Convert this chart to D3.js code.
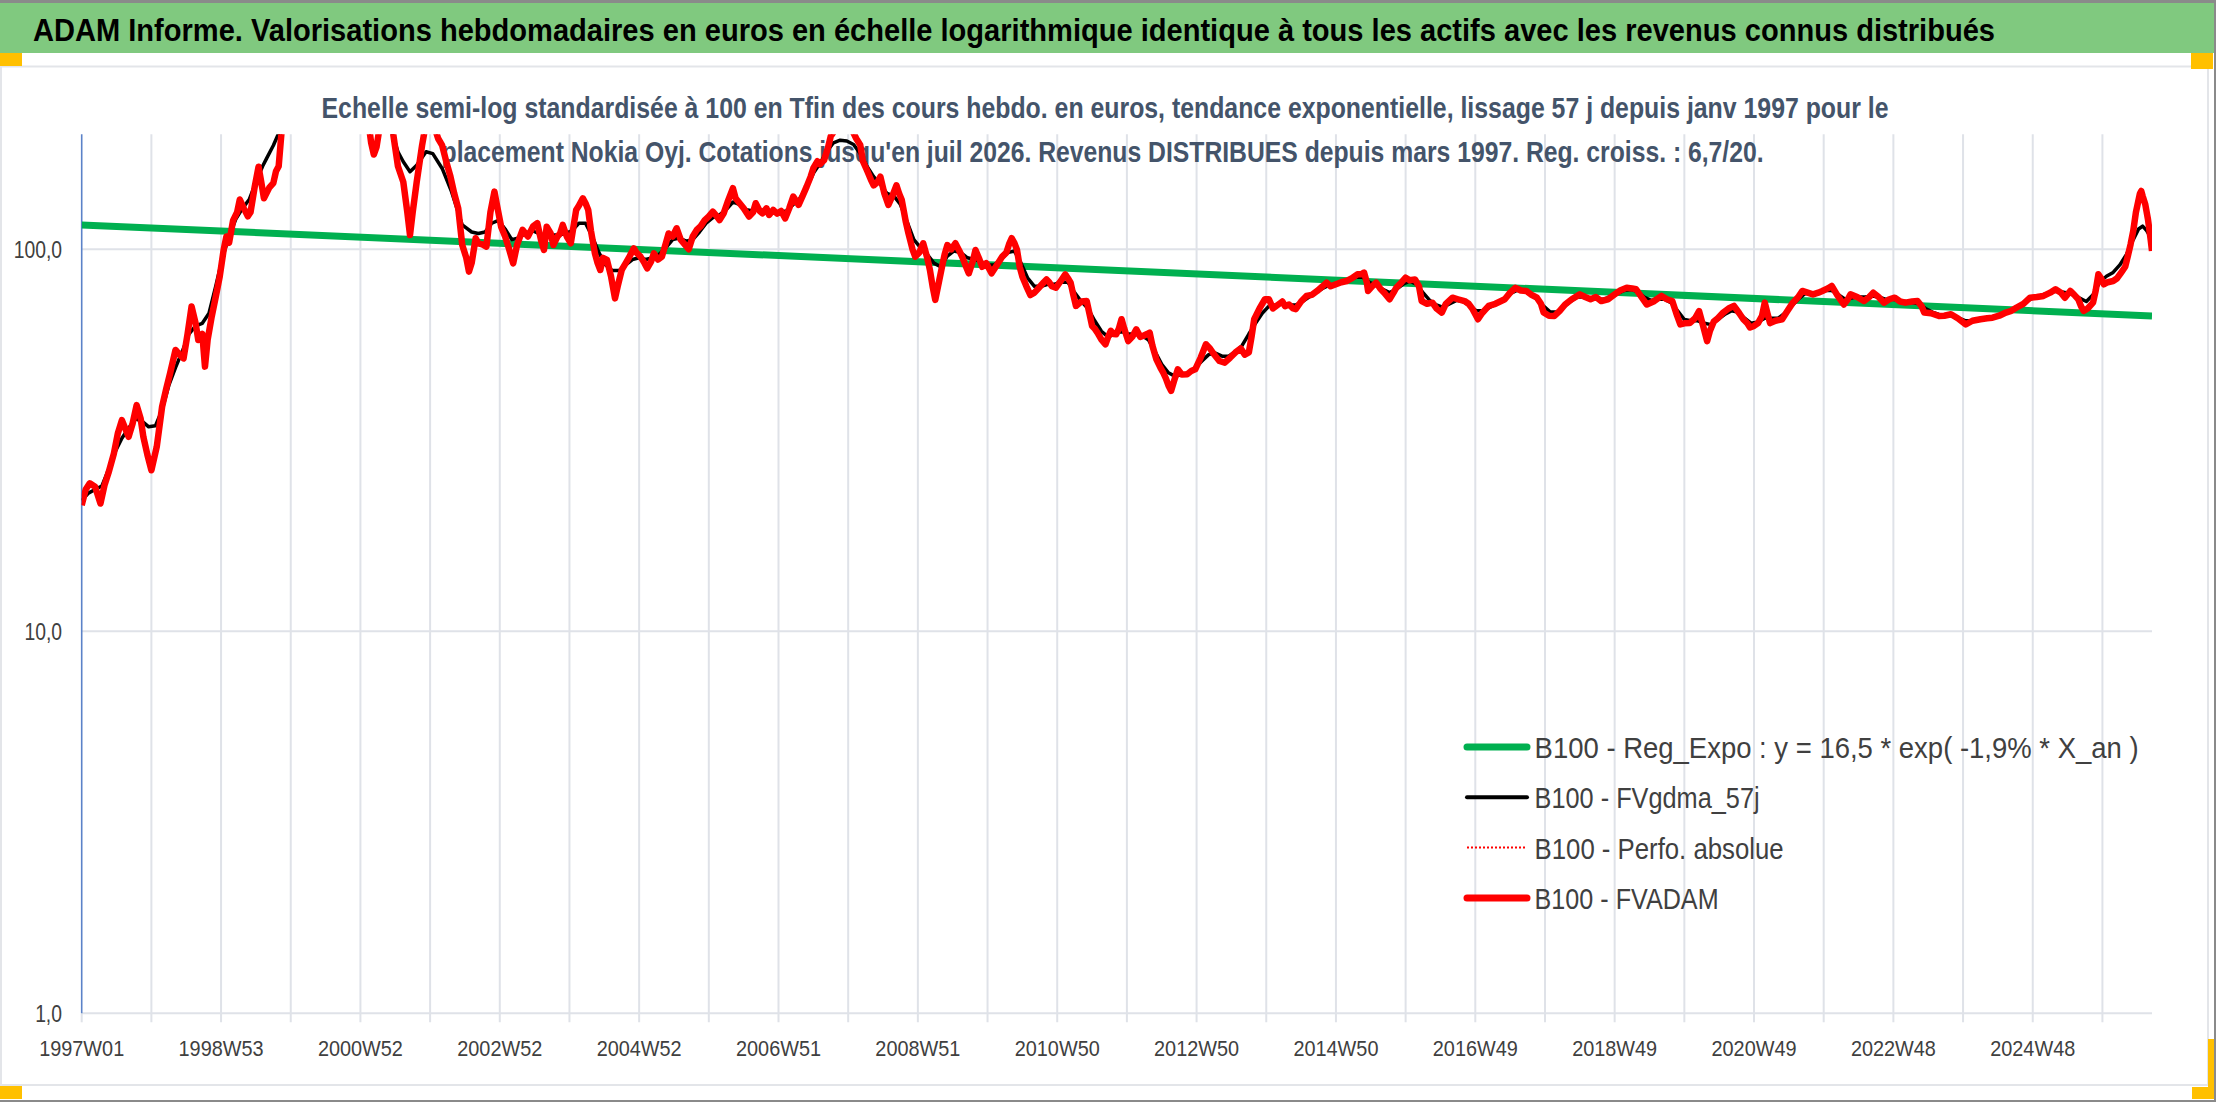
<!DOCTYPE html>
<html lang="fr">
<head>
<meta charset="utf-8">
<title>ADAM Informe - Nokia Oyj</title>
<script src="https://d3js.org/d3.v7.min.js"></script>
<style>
  html, body { margin: 0; padding: 0; background: #fff; }
  svg { display: block; font-family: "Liberation Sans", Arial, sans-serif; }
</style>
</head>
<body>
<script>
// ---- data (x = week index since 1997W01) ----
const tickLabels = ["1997W01","1998W53","2000W52","2002W52","2004W52","2006W51","2008W51",
  "2010W50","2012W50","2014W50","2016W49","2018W49","2020W49","2022W48","2024W48"];
const tickWeeks = [0,104,208,312,416,520,624,728,832,936,1040,1144,1248,1352,1456];
const gridWeeks = [0,52,104,156,208,260,312,364,416,468,520,572,624,676,728,780,832,884,
  936,988,1040,1092,1144,1196,1248,1300,1352,1404,1456,1508];
const yTicks = [1, 10, 100];
const lastWeek = 1545;

const legendLabels = [
  "B100 - Reg_Expo : y = 16,5 * exp( -1,9% *  X_an )",
  "B100 - FVgdma_57j",
  "B100 - Perfo. absolue",
  "B100 - FVADAM"
];

// exponential regression line (straight on the log axis)
const regExpo = [[0,115.8],[1545,66.9]];

// FVADAM (red, weekly valuation)
const fvadam = [
[0,21.4],[3,23.5],[6,24.4],[10,23.9],[14,21.6],[17,24.1],[20,26],[24,29.2],[27,33],[30,35.7],
[35,32.3],[38,35],[41,39.1],[44,36],[46,32.3],[49,29],[52,26.4],[56,30.4],[60,38.7],[63,43],
[66,47.4],[70,54.5],[73,53],[76,51.8],[79,60],[82,70.8],[85,64],[87,57.9],[90,60],[92,49.3],
[94,58],[97,66.6],[100,75],[103,84.8],[106,100],[108,108],[110,104],[113,119],[116,125],[118,135],
[121,128],[124,122],[126,125],[129,145],[132,164.5],[134,150],[136,136],[140,145],[143,149],[145,160],
[147,165],[149,200],[152,230],[156,260],[162,300],[170,340],[178,390],[186,430],[192,400],[198,360],
[204,310],[210,250],[214,215],[216,190],[218,177],[220,185],[222,205],[226,240],[230,225],[232.5,200],
[236,165],[240,150],[243,125],[245,109],[247,125],[250,150],[254,187],[256,205],[260,215],[264,205],
[266,195],[269,187],[272,170],[275,156],[278,140],[281,128],[284,102.6],[287,95],[289,87.4],[291,92],
[294,106.9],[296,103.7],[299,103],[302,101.6],[305,125],[308,141.6],[310,130],[313,114.6],[316,108],[319,100],
[322,91.9],[325,103],[329,112.4],[333,108],[337,115],[340,117],[343,105],[345,99.6],[347,114.6],[350,110],
[352,102.6],[355,108],[357,110],[359,115.8],[362,108],[365,103.7],[369,126.8],[371,130],[374,136],[376,132],
[378,126.8],[380,112],[383,97.6],[385,92],[387,88.3],[389,95],[392,93.8],[395,85],[398,74.4],[400,80],
[403,88.3],[406,92],[409,96],[412,100.6],[414,98],[417,95.7],[420,92],[422,89.2],[425,93],[427,97.6],
[430,94],[433,95.7],[436,104],[438,110],[441,108],[444,113.5],[447,106],[450,103],[453,100],[456,108],
[459,112.4],[462,115],[465,119.3],[468,122],[471,125.5],[474,122],[476,119.3],[479,124],[482,133],[486,144.5],
[488,136],[491,132],[494,128],[498,121.8],[501,125],[503,132],[506,126],[508,124.2],[511,128],[513,123],
[516,126.8],[519,124],[522,126],[525,120.5],[528,128],[531,137.4],[535,130.7],[538,138],[541,145.9],[544,155],
[546,163],[549,170],[551,167],[554,171],[557,185],[559,197.7],[562,205],[566,210],[570,205],[573,212],
[575,205],[578,195],[581,187.6],[583,170],[586,161],[589,152],[591,147],[594,150],[596,155],[599,140],
[602,130.7],[605,138],[608,147],[610,140],[612,134.6],[615,118],[617,110],[620,100],[622,95.7],[625,98],
[628,103.7],[631,95],[633,88.3],[635,80],[637,73.7],[640,83],[642,90],[644,97],[646,102.6],[649,100],
[652,103.7],[655,99],[657,95.7],[660,90],[662,86.5],[665,93],[667,99.6],[670,94],[672,90],[675,92],
[679,86.5],[683,91],[687,95.7],[690,98],[692,103],[694,106.9],[696,104],[698,99.6],[700,90],[702,84.8],
[705,80],[708,75.9],[711,77],[715,79.8],[718,82],[720,83.4],[722,82],[724,80],[727,79.3],[730,82],
[734,86],[736,84],[738,81.8],[740,76],[742,71.1],[746,73],[750,73.2],[752,68],[754,63],[756,62],
[758,60.5],[761,58],[764,56.4],[766,59],[768,61.2],[770,60],[772,59.9],[774,62],[776,65.6],[778,62],
[781,57.5],[784,59],[787,61.7],[790,59],[792,59.3],[795,60],[797,60.5],[799,56],[802,51.5],[805,49],
[807,47.6],[809,46],[811,44],[813,42.6],[815,45],[818,48.5],[821,47],[825,47.1],[828,48],[831,48.5],
[835,52],[839,56.4],[842,55],[845,53.1],[849,51],[853,50.5],[857,52],[861,53.7],[865,55],[868,53],
[871,53.7],[873,59],[875,65.6],[879,70],[883,74],[886,74],[889,70],[893,71.7],[896,73],[898,71],
[901,71.7],[904,70],[906,69.7],[910,73],[914,75.5],[918,76],[922,77.8],[926,80],[929,81.8],[932,80],
[936,81],[940,82],[944,82.6],[948,84],[952,86],[955,86],[957,86.9],[959,82],[960,77.8],[963,80],
[966,81.8],[969,79],[972,77],[976,74],[979,77],[981,79.3],[985,82],[988,84.3],[991,83],[995,83.4],
[998,80],[1000,73.2],[1004,72],[1008,72.5],[1011,70],[1015,68.3],[1018,72],[1023,74.7],[1027,74],[1032,73.2],
[1035,72],[1038,69.7],[1042,65.6],[1045,68],[1050,71.1],[1055,72],[1062,74],[1066,77],[1070,79.3],[1074,78],
[1078,77.8],[1082,76],[1086,74.7],[1089,72],[1091,68.3],[1095,67],[1099,66.9],[1103,69],[1107,71.7],[1112,74],
[1118,76.2],[1122,75],[1126,74],[1130,75],[1134,73.2],[1139,74],[1144,76.2],[1148,78],[1153,79.3],[1157,79],
[1160,78.6],[1164,75],[1168,71.7],[1173,73],[1179,75.5],[1183,74],[1187,73.2],[1190,68],[1193,63.6],[1196,64],
[1200,64.1],[1204,66],[1207,68.9],[1210,63],[1213,57.5],[1215,61],[1218,64.7],[1221,66],[1225,68.3],[1229,70],
[1233,71.1],[1237,68],[1240,65.6],[1243,64],[1245,62.4],[1248,63],[1251,64.1],[1254,67],[1256,72.5],[1258,68],
[1260,64.1],[1264,65],[1269,65.6],[1273,69],[1277,72.5],[1281,75],[1284,77.8],[1288,77],[1292,76.2],[1296,77],
[1299,77.8],[1303,79],[1306,80.2],[1310,76],[1315,71.7],[1318,74],[1320,76.2],[1325,75],[1330,73.2],[1334,75],
[1337,77],[1341,75],[1345,72.5],[1349,74],[1353,74.7],[1357,73],[1361,72.5],[1366,73],[1370,73.2],[1373,71],
[1375,68.3],[1380,68],[1386,66.9],[1390,67],[1395,67.6],[1400,66],[1406,63.6],[1411,65],[1417,65.6],[1422,66],
[1426,66.2],[1431,67],[1436,68.3],[1440,69],[1444,70.4],[1449,72],[1454,74.7],[1459,75],[1464,75.5],[1469,77],
[1473,78.6],[1477,77],[1480,74.7],[1484,77.8],[1487,76],[1490,74],[1492,71],[1494,69],[1497,70],[1501,72.5],
[1503,78],[1505,86],[1507,84],[1509,81],[1512,82],[1516,82.6],[1519,84],[1522,86.9],[1525,90],[1527,96.1],
[1529,103],[1531,111.7],[1533,125],[1534,129.8],[1536,140],[1537,142.1],[1538,138],[1540,131],[1542,119.8],[1544,106],
[1545,99]
];

// Perfo. absolue (dotted red) coincides with FVADAM on the picture
const perfoAbsolue = fvadam;

// FVgdma_57j (black, smoothed)
const fvgdma = [
[0,22],[5,23],[10,23.5],[15,24],[20,26.5],[25,29.5],[30,32],[35,34],[40,36],[45,35.5],
[50,34.3],[55,34.5],[60,38],[65,44],[70,49],[75,54],[80,60],[85,63],[90,64],[95,68],
[100,80],[105,95],[110,108],[115,120],[120,128],[125,135],[130,150],[135,165],[138,173],[143,187],
[148,205],[155,250],[165,300],[175,350],[185,390],[195,380],[205,330],[215,270],[225,230],[232,200],
[236,180],[240,169.5],[245,159.6],[250,166],[257,180],[262,178],[269,162.8],[276,141.5],[284,115.8],[291,111],
[296,110],[301,111],[306,117],[311,119],[316,113],[321,106],[326,107],[331,110],[336,112],[341,110],
[346,108],[351,109],[356,109],[361,110],[366,112],[371,117],[376,117],[381,108],[386,98],[391,91],
[396,88],[401,88],[406,91],[411,94],[416,95],[421,94],[426,95],[431,97],[436,101],[441,106],
[446,107],[451,105],[456,106],[461,111],[466,117],[471,121],[476,123],[481,127],[486,133],[491,131],
[496,127],[501,126],[506,127],[511,126],[516,125],[521,125],[526,126],[531,131],[536,136],[541,145],
[546,158],[551,168],[556,180],[561,190],[566,193],[571,192],[576,188],[581,178],[586,165],[591,155],
[596,148],[601,140],[606,138],[611,131],[616,118],[621,106],[626,101],[631,97],[636,92],[641,90],
[646,96],[651,99],[656,98],[661,95],[666,94],[671,93],[676,91],[681,91],[686,94],[691,98],
[696,99],[701,92],[706,84],[711,80],[716,80],[721,81],[726,81],[731,82],[736,82],[741,77],
[746,73],[751,70],[756,65],[761,61],[766,59],[771,60],[776,61],[781,60],[786,60],[791,59.5],
[796,58],[801,54],[806,50],[811,47.5],[816,46.5],[821,47],[826,47.5],[831,49],[836,51],[841,53],
[846,53.5],[851,52.5],[856,52.5],[861,54],[866,56],[871,60],[876,64],[881,68],[886,71],[891,71.5],
[896,72],[901,71.5],[906,71.5],[911,73],[916,75],[921,77],[926,79],[931,80.5],[936,81],[941,82],
[946,83.5],[951,84.5],[956,84.5],[961,82],[966,80.5],[971,78.5],[976,77],[981,78.5],[986,81],[991,82.5],
[996,81],[1001,77],[1006,73.5],[1011,71.5],[1016,70.5],[1021,72],[1026,73.5],[1031,73],[1036,71],[1041,69],
[1046,69],[1051,70.5],[1056,72],[1061,74],[1066,76.5],[1071,78],[1076,78],[1081,76.5],[1086,74],[1091,71],
[1096,68.5],[1101,68.5],[1106,70.5],[1111,73],[1116,75],[1121,75],[1126,74.5],[1131,74],[1136,74],[1141,75],
[1146,76.5],[1151,78],[1156,78.5],[1161,77.5],[1166,75],[1171,73.5],[1176,74],[1181,74],[1186,72.5],[1191,69],
[1196,65.5],[1201,65],[1206,65],[1211,64],[1216,63.5],[1221,65.5],[1226,67.5],[1231,69],[1236,68.5],[1241,66],
[1246,64],[1251,64.5],[1256,66],[1261,66],[1266,66],[1271,68],[1276,71],[1281,74],[1286,76.5],[1291,77],
[1296,77],[1301,78],[1306,78],[1311,76],[1316,74],[1321,74.5],[1326,75],[1331,75],[1336,75.5],[1341,75],
[1346,74],[1351,74],[1356,73.5],[1361,73],[1366,72.5],[1371,72],[1376,70],[1381,68.5],[1386,67.5],[1391,67],
[1396,67],[1401,66],[1406,65],[1411,65],[1416,65.5],[1421,66],[1426,66.5],[1431,67],[1436,68],[1441,69.5],
[1446,71],[1451,73],[1456,74.5],[1461,75.5],[1466,76.5],[1471,77.5],[1476,77.5],[1481,77],[1486,76.5],[1491,74.5],
[1496,73],[1501,76],[1506,82],[1511,85],[1516,87],[1521,91],[1526,97],[1531,106],[1535,113],[1538,115],
[1541,112],[1545,106]
];

// ---- layout ----
const W = 2216, H = 1102;
const plot = {left: 81.7, right: 2152, top: 134.3, bottom: 1013.3};
const gridColor = "#dfe2e8";
const textColor = "#404040";

const svg = d3.select("body").append("svg")
    .attr("width", W)
    .attr("height", H);

svg.append("rect").attr("width", W).attr("height", H).attr("fill", "#fff");

// page frame
svg.append("rect")
    .attr("x", 1).attr("y", 66.5).attr("width", 2207).attr("height", 1018.5)
    .attr("fill", "none").attr("stroke", "#e3e5e9").attr("stroke-width", 2);

// header band
svg.append("rect").attr("x", 0).attr("y", 0).attr("width", W).attr("height", 3).attr("fill", "#8a8a8a");
svg.append("rect").attr("x", 0).attr("y", 3).attr("width", W).attr("height", 50).attr("fill", "#80c97f");

// orange corner marks
const orange = "#ffc000";
[[0,53,22,13],[2191,53,22,16],[0,1086,22,13],[2208,1039,7,60],[2192,1087,23,12]].forEach(function(r){
    svg.append("rect").attr("x", r[0]).attr("y", r[1]).attr("width", r[2]).attr("height", r[3]).attr("fill", orange);
});
svg.append("rect").attr("x", 2214).attr("y", 0).attr("width", 2).attr("height", H).attr("fill", "#8a8a8a");
svg.append("rect").attr("x", 0).attr("y", 1100).attr("width", W).attr("height", 2).attr("fill", "#8a8a8a");

function fit(sel, width) {
    return sel.attr("textLength", width).attr("lengthAdjust", "spacingAndGlyphs");
}

fit(svg.append("text")
    .attr("x", 33).attr("y", 41)
    .attr("font-size", 31.5).attr("font-weight", "bold").attr("fill", "#000")
    .text("ADAM Informe. Valorisations hebdomadaires en euros en échelle logarithmique identique à tous les actifs avec les revenus connus distribués"), 1962);

fit(svg.append("text")
    .attr("x", 321.5).attr("y", 118)
    .attr("font-size", 30).attr("font-weight", "bold").attr("fill", "#44546a")
    .text("Echelle semi-log standardisée à 100 en Tfin des cours hebdo. en euros, tendance exponentielle, lissage 57 j depuis janv 1997 pour le"), 1567);

// ---- scales ----
const x = d3.scaleLinear().domain([0, lastWeek]).range([plot.left, plot.right]);
const y = d3.scaleLog().domain([1, 200]).range([plot.bottom, plot.top]);

// gridlines
svg.append("g").selectAll("line")
    .data(gridWeeks.filter(function(d){ return d > 0; }))
    .enter().append("line")
    .attr("x1", function(d){ return x(d); }).attr("x2", function(d){ return x(d); })
    .attr("y1", plot.top).attr("y2", plot.bottom + 9)
    .attr("stroke", gridColor).attr("stroke-width", 2);

svg.append("g").selectAll("line")
    .data(yTicks)
    .enter().append("line")
    .attr("x1", plot.left).attr("x2", plot.right)
    .attr("y1", function(d){ return y(d); }).attr("y2", function(d){ return y(d); })
    .attr("stroke", gridColor).attr("stroke-width", 2);

// tick at week 0 below axis
svg.append("line")
    .attr("x1", x(0)).attr("x2", x(0)).attr("y1", plot.bottom).attr("y2", plot.bottom + 9)
    .attr("stroke", gridColor).attr("stroke-width", 2);

// y axis line
svg.append("line")
    .attr("x1", plot.left).attr("x2", plot.left).attr("y1", plot.top).attr("y2", plot.bottom)
    .attr("stroke", "#5b82c8").attr("stroke-width", 1.6);

// second subtitle line sits over the plot
fit(svg.append("text")
    .attr("x", 441.6).attr("y", 162)
    .attr("font-size", 30).attr("font-weight", "bold").attr("fill", "#44546a")
    .text("placement Nokia Oyj. Cotations jusqu'en juil 2026. Revenus DISTRIBUES depuis mars 1997. Reg. croiss. : 6,7/20."), 1322);

// axis labels
const fmt = function(d){ return d3.format(".1f")(d).replace(".", ","); };
svg.append("g").selectAll("text")
    .data(yTicks)
    .enter().append("text")
    .attr("x", 62).attr("y", function(d){ return y(d) + 8.5; })
    .attr("text-anchor", "end")
    .attr("font-size", 23).attr("fill", textColor)
    .text(fmt)
    .each(function(){
        d3.select(this).attr("textLength", this.getComputedTextLength() * 0.84)
            .attr("lengthAdjust", "spacingAndGlyphs");
    });

svg.append("g").selectAll("text")
    .data(tickWeeks)
    .enter().append("text")
    .attr("x", function(d){ return x(d); }).attr("y", 1056)
    .attr("text-anchor", "middle")
    .attr("font-size", 22.5).attr("fill", textColor)
    .attr("textLength", 85).attr("lengthAdjust", "spacingAndGlyphs")
    .text(function(d, i){ return tickLabels[i]; });

// ---- series ----
svg.append("clipPath").attr("id", "plotClip")
    .append("rect")
    .attr("x", plot.left).attr("y", plot.top)
    .attr("width", plot.right - plot.left).attr("height", plot.bottom - plot.top);

const line = d3.line()
    .x(function(d){ return x(d[0]); })
    .y(function(d){ return y(d[1]); });

const series = [
    {data: regExpo, color: "#00b050", width: 7, dash: null},
    {data: fvgdma, color: "#000000", width: 3.5, dash: null},
    {data: perfoAbsolue, color: "#ff0000", width: 2, dash: "2,2"},
    {data: fvadam, color: "#ff0000", width: 6.5, dash: null}
];

const plotG = svg.append("g").attr("clip-path", "url(#plotClip)");
series.forEach(function(s){
    plotG.append("path")
        .attr("d", line(s.data))
        .attr("fill", "none")
        .attr("stroke", s.color)
        .attr("stroke-width", s.width)
        .attr("stroke-linejoin", "round")
        .attr("stroke-dasharray", s.dash);
});

// ---- legend ----
const legendWidths = [604, 225, 249, 184];
const legend = svg.append("g");
series.forEach(function(s, i){
    const cy = 747 + i * 50.3;
    legend.append("line")
        .attr("x1", 1467).attr("x2", 1527).attr("y1", cy).attr("y2", cy)
        .attr("stroke", s.color)
        .attr("stroke-width", i === 2 ? 2 : (i === 1 ? 4 : 7))
        .attr("stroke-linecap", s.dash ? "butt" : "round")
        .attr("stroke-dasharray", s.dash);
    fit(legend.append("text")
        .attr("x", 1534.6).attr("y", cy + 11)
        .attr("font-size", 30).attr("fill", textColor)
        .text(legendLabels[i]), legendWidths[i]);
});
</script>
</body>
</html>
